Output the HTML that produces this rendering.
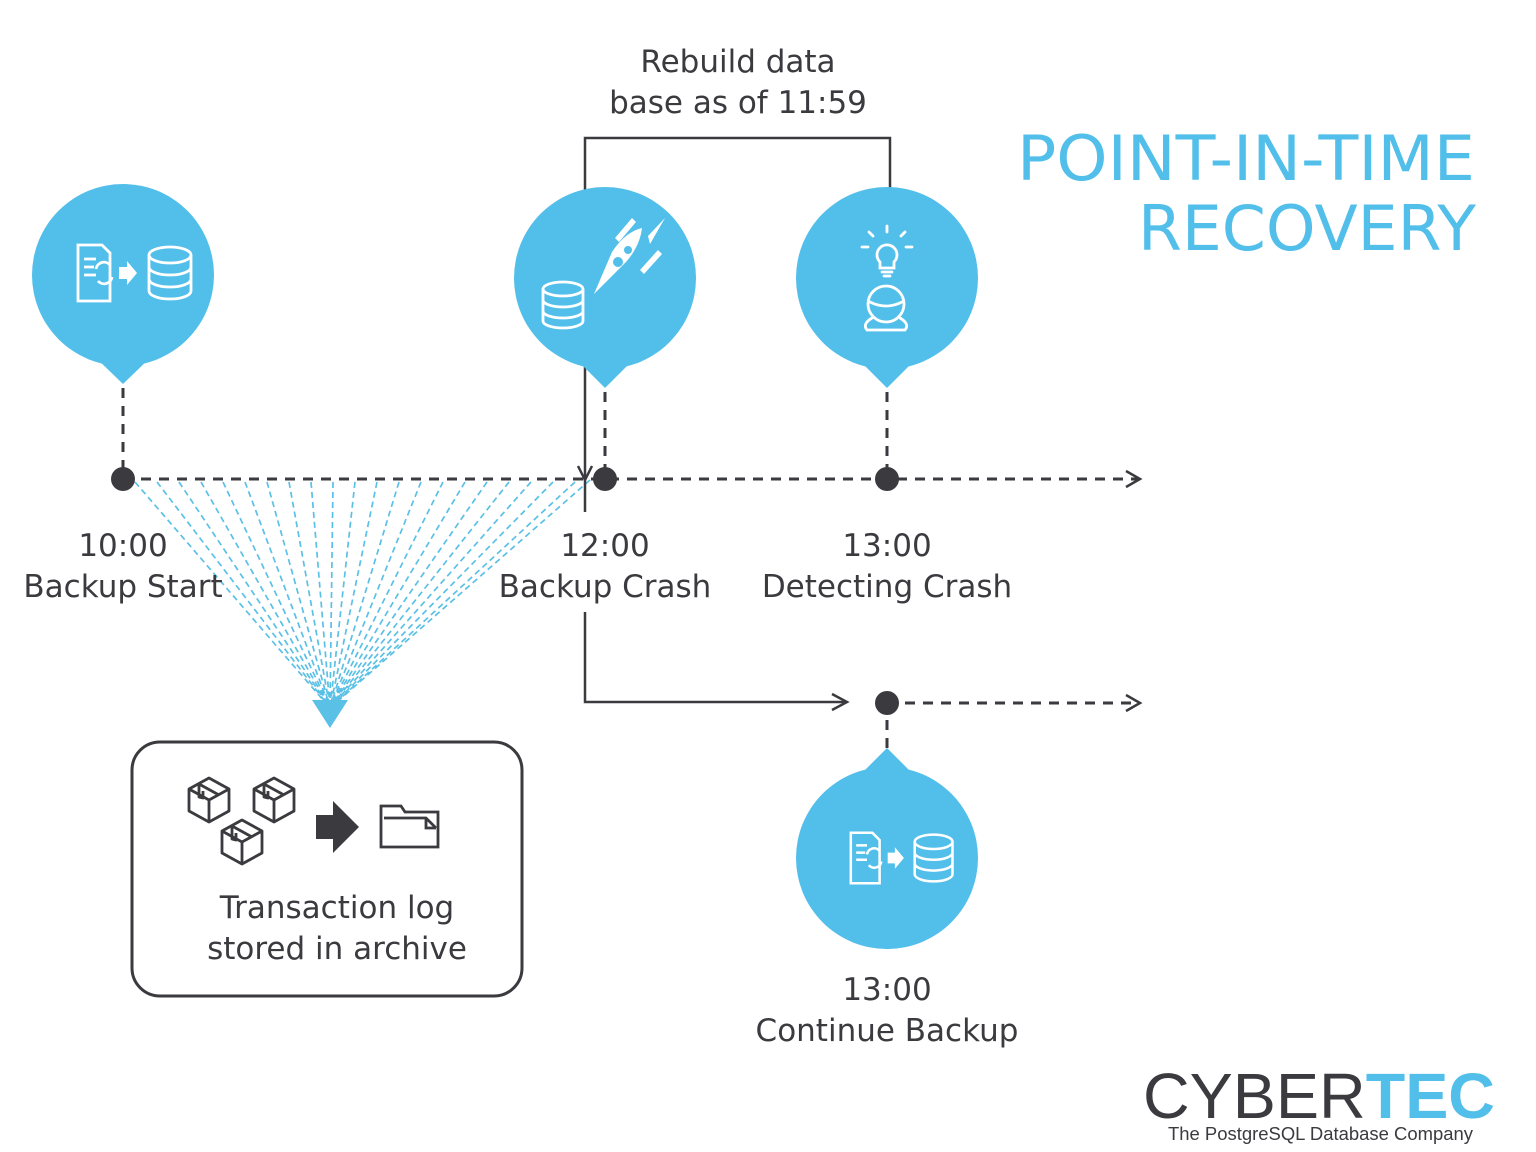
<!DOCTYPE html>
<html><head><meta charset="utf-8"><style>
html,body{margin:0;padding:0;background:#fff;}
svg{display:block;}
text{font-family:"DejaVu Sans","Liberation Sans",sans-serif;fill:#3a3a3f;}
</style></head><body>
<svg width="1536" height="1152" viewBox="0 0 1536 1152" xmlns="http://www.w3.org/2000/svg">
<defs>
<g id="docdb" fill="none" stroke="#fff" stroke-width="2.8">
  <path d="M-68,-28 h24 l8,8 v48 h-32 z"/>
  <path d="M-62,-14 h12 M-62,-6 h10 M-62,2 h12"/>
  <path d="M-50,-4 a8,8 0 0 1 14,-4 M-34,4 a8,8 0 0 1 -14,4"/>
  <path d="M-27,-6 h8 v-6 l10,12 -10,12 v-6 h-8z" fill="#fff" stroke="none"/>
  <ellipse cx="24" cy="-18" rx="21" ry="8"/>
  <path d="M3,-18 v36 a21,8 0 0 0 42,0 v-36 M3,-6 a21,8 0 0 0 42,0 M3,6 a21,8 0 0 0 42,0"/>
</g>
<g id="db" fill="none" stroke="#fff" stroke-width="2.8">
  <ellipse cx="0" cy="-16" rx="20" ry="7"/>
  <path d="M-20,-16 v32 a20,7 0 0 0 40,0 v-32 M-20,-5 a20,7 0 0 0 40,0 M-20,6 a20,7 0 0 0 40,0"/>
</g>
<g id="box" fill="none" stroke="#3a3a3f" stroke-width="2.8" stroke-linejoin="round">
  <path d="M0,-22 L20,-11 V11 L0,22 L-20,11 V-11 Z M-20,-11 L0,0 L20,-11 M0,0 V22"/>
  <path d="M-10,-16 L10,-5 M-10,-16 V-3 L-6,-2 V-9"/>
</g>
</defs>

<g stroke="#5bc0e6" stroke-width="1.7" stroke-dasharray="6,4" fill="none">
<path d="M135,482 L330,708"/><path d="M157,482 L330,708"/><path d="M179,482 L330,708"/><path d="M201,482 L330,708"/>
<path d="M223,482 L330,708"/><path d="M245,482 L330,708"/><path d="M267,482 L330,708"/><path d="M289,482 L330,708"/>
<path d="M311,482 L330,708"/><path d="M333,482 L330,708"/><path d="M355,482 L330,708"/><path d="M377,482 L330,708"/>
<path d="M399,482 L330,708"/><path d="M421,482 L330,708"/><path d="M443,482 L330,708"/><path d="M465,482 L330,708"/>
<path d="M487,482 L330,708"/><path d="M509,482 L330,708"/><path d="M531,482 L330,708"/><path d="M553,482 L330,708"/>
<path d="M575,482 L330,708"/><path d="M590,480 L330,708"/>
</g>
<path d="M312,700 L348,700 L330,728 Z" fill="#5bc0e6"/>

<g stroke="#3a3a3f" stroke-width="3" stroke-dasharray="10,8" fill="none">
  <path d="M123,388 V478"/><path d="M605,392 V478"/><path d="M887,392 V478"/>
  <path d="M123,479 H1138"/>
  <path d="M887,703 H1138"/><path d="M887,720 V750"/>
</g>
<g stroke="#3a3a3f" stroke-width="2.5" fill="none">
  <path d="M1126,471 L1140,479 L1126,487"/><path d="M1126,695 L1140,703 L1126,711"/>
  <path d="M585,480 V138 H890 V188"/>
  <path d="M585,480 V512"/>
  <path d="M585,612 V702 H846"/><path d="M832,694 L847,702 L832,710"/>
  <path d="M578,466 L585,480 L592,466"/>
</g>
<circle cx="123" cy="479" r="12" fill="#3a3a3f"/>
<circle cx="605" cy="479" r="12" fill="#3a3a3f"/>
<circle cx="887" cy="479" r="12" fill="#3a3a3f"/>
<circle cx="887" cy="703" r="12" fill="#3a3a3f"/>

<g fill="#52bfea">
  <circle cx="123" cy="275" r="91"/><path d="M93,355 L123,384 L153,355 Z"/>
  <circle cx="605" cy="278" r="91"/><path d="M575,358 L605,388 L635,358 Z"/>
  <circle cx="887" cy="278" r="91"/><path d="M857,358 L887,388 L917,358 Z"/>
  <circle cx="887" cy="858" r="91"/><path d="M857,778 L887,748 L917,778 Z"/>
</g>
<use href="#docdb" x="146" y="273"/>
<use href="#docdb" transform="translate(912,858) scale(0.9)"/>
<use href="#db" x="563" y="305"/>
<g fill="#fff">
  <path d="M594,294 L612,252 Q625,232 642,228 Q640,246 626,262 Z"/>
  <circle cx="618" cy="262" r="5" fill="#52bfea"/><circle cx="628" cy="250" r="4" fill="#52bfea"/>
  <path d="M615,238 L632,218 L636,222 L619,242 Z"/>
  <path d="M640,270 L658,250 L662,254 L644,274 Z"/>
  <path d="M648,236 L665,218 L650,244 Z"/>
</g>
<g fill="none" stroke="#fff" stroke-width="2.8" stroke-linecap="round">
  <path d="M880,262 a10,10 0 1 1 14,0 v6 h-14 z"/><path d="M882,272 h10 M884,276 h6"/>
  <path d="M887,226 v6 M869,232 l4,4 M905,232 l-4,4 M862,247 h6 M906,247 h6"/>
  <circle cx="886" cy="304" r="18"/><path d="M870,302 q16,8 32,0"/>
  <path d="M872,318 q-10,6 -5,12 h38 q5,-6 -5,-12"/>
</g>

<rect x="132" y="742" width="390" height="254" rx="28" fill="none" stroke="#3a3a3f" stroke-width="3"/>
<use href="#box" x="209" y="800"/><use href="#box" x="274" y="800"/><use href="#box" x="242" y="842"/>
<path d="M316,815 h17 v-14 l26,26 -26,26 v-14 h-17 z" fill="#3a3a3f"/>
<g fill="none" stroke="#3a3a3f" stroke-width="2.8">
  <path d="M381,847 V806 h20 l4,6 h33 v35 z"/><path d="M384,818 h42 l10,10 M426,818 v10 h10"/>
</g>

<g font-size="31" text-anchor="middle">
  <text x="738" y="72">Rebuild data</text>
  <text x="738" y="113">base as of 11:59</text>
  <text x="123" y="556">10:00</text><text x="123" y="597">Backup Start</text>
  <text x="605" y="556">12:00</text><text x="605" y="597">Backup Crash</text>
  <text x="887" y="556">13:00</text><text x="887" y="597">Detecting Crash</text>
  <text x="887" y="1000" fill="#111">13:00</text><text x="887" y="1041" fill="#111">Continue Backup</text>
  <text x="337" y="918" fill="#111">Transaction log</text><text x="337" y="959" fill="#111">stored in archive</text>
</g>
<text x="1017" y="180" font-size="62" textLength="458" lengthAdjust="spacingAndGlyphs" style="fill:#52bfea">POINT-IN-TIME</text>
<text x="1138" y="250" font-size="62" textLength="338" lengthAdjust="spacingAndGlyphs" style="fill:#52bfea">RECOVERY</text>
<text x="1143" y="1118" font-size="64" textLength="352" lengthAdjust="spacingAndGlyphs" style="font-family:'Liberation Sans',sans-serif;fill:#3a3a3f">CYBER<tspan font-weight="bold" style="fill:#52bfea">TEC</tspan></text>
<text x="1168" y="1140" font-size="18" textLength="305" lengthAdjust="spacingAndGlyphs" style="font-family:'Liberation Sans',sans-serif;fill:#3a3a3f">The PostgreSQL Database Company</text>
</svg>
</body></html>
